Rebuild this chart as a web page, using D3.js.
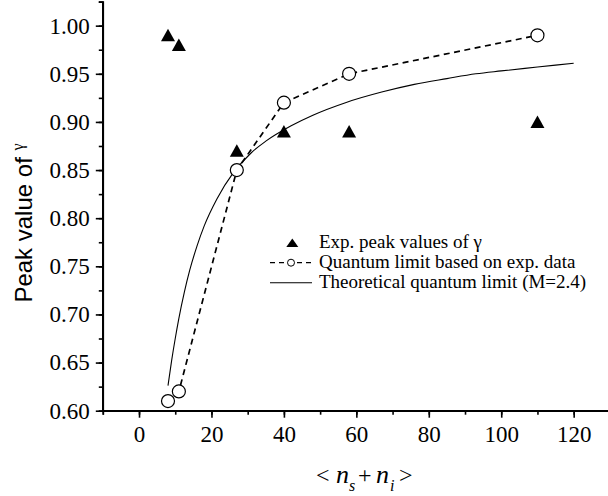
<!DOCTYPE html>
<meta charset="utf-8">
<style>
    body { margin: 0; background: #fff; }
    .axis path, .axis line { stroke: #000; stroke-width: 1.6px; }
    .legend text { font-family: "Liberation Serif", "Times New Roman", serif; font-size: 19px; fill: #000; }
</style>
<title>Peak value of gamma</title>

<body>
    <script src="https://d3js.org/d3.v7.min.js"></script>
    <script>
        // experimental peak values (triangles)
        const nExp = [8, 11, 27, 40, 58, 110];
        const gammaExp = [0.99, 0.98, 0.87, 0.89, 0.89, 0.90];

        // quantum limit based on exp. data (open circles, dashed)
        const nLimit = [8, 11, 27, 40, 58, 110];
        const gammaLimit = [0.61, 0.62, 0.85, 0.92, 0.95, 0.99];

        // theoretical quantum limit, M=2.4
        const nTheory = [8, 9, 10, 11, 12.5, 14, 16, 18, 21.5, 26, 31, 35, 42, 48, 57, 67, 76, 85, 93, 100, 110, 120];
        const gammaTheory = [0.626, 0.652, 0.675, 0.696, 0.723, 0.746, 0.771, 0.792, 0.820, 0.847, 0.868, 0.880,
                             0.896, 0.907, 0.920, 0.931, 0.939, 0.945, 0.950, 0.953, 0.957, 0.961];

        const xTicks = [0, 20, 40, 60, 80, 100, 120];
        const yTicks = [0.60, 0.65, 0.70, 0.75, 0.80, 0.85, 0.90, 0.95, 1.00];
        const legendLabels = ['Exp. peak values of \u03b3', 'Quantum limit based on exp. data', 'Theoretical quantum limit (M=2.4)'];

        var width = 608, height = 496;
        const serif = '"Liberation Serif", "Times New Roman", serif';

        let svg = d3.select('body').append('svg')
            .attr('width', width)
            .attr('height', height);

        let x = d3.scaleLinear().domain([-10, 130]).range([102.8, 609.9]);
        let y = d3.scaleLinear().domain([0.60, 1.025]).range([410.7, 1.6]);

        // minor ticks first, then major axes
        svg.append('g')
            .attr('class', 'axis')
            .attr('transform', 'translate(0,410.7)')
            .call(d3.axisBottom(x).tickValues(d3.range(-10, 131, 10)).tickSize(4).tickFormat(''));
        svg.append('g')
            .attr('class', 'axis')
            .attr('transform', 'translate(102.8,0)')
            .call(d3.axisLeft(y).tickValues(d3.range(0.60, 1.026, 0.025)).tickSize(4).tickFormat(''));

        let xAxis = svg.append('g')
            .attr('class', 'axis')
            .attr('transform', 'translate(0,410.7)')
            .call(d3.axisBottom(x).tickValues(xTicks).tickSize(7).tickSizeOuter(0).tickFormat(d3.format('d')));
        xAxis.selectAll('text')
            .attr('y', 15).attr('dy', '0.71em').attr('fill', '#000')
            .style('font-family', serif).style('font-size', '23px');
        xAxis.select('.domain').remove();

        let yAxis = svg.append('g')
            .attr('class', 'axis')
            .attr('transform', 'translate(102.8,0)')
            .call(d3.axisLeft(y).tickValues(yTicks).tickSize(7).tickPadding(6).tickFormat(d3.format('.2f')));
        yAxis.selectAll('text')
            .attr('fill', '#000')
            .style('font-family', serif).style('font-size', '23px');
        yAxis.select('.domain').remove();

        // axis lines
        svg.append('line')
            .attr('x1', x(-10)).attr('x2', x(130))
            .attr('y1', y(0.60)).attr('y2', y(0.60))
            .attr('stroke', '#000').attr('stroke-width', 1.6);
        svg.append('line')
            .attr('x1', x(-10)).attr('x2', x(-10))
            .attr('y1', y(0.60)).attr('y2', y(1.025))
            .attr('stroke', '#000').attr('stroke-width', 1.6);

        // y label
        let yl = svg.append('text')
            .attr('transform', 'translate(31.5,223) rotate(-90)')
            .attr('text-anchor', 'middle')
            .style('font-family', '"Liberation Sans", Arial, sans-serif')
            .style('font-size', '24px');
        yl.append('tspan').text('Peak value of ');
        yl.append('tspan')
            .style('font-family', serif)
            .style('font-size', '16px')
            .attr('dy', -9)
            .text('\u03b3');

        // x label  < n_s + n_i >
        let xl = svg.append('text')
            .attr('y', 483)
            .style('font-family', serif)
            .style('font-size', '24px');
        xl.append('tspan').attr('x', 316).text('<');
        xl.append('tspan').attr('x', 336).style('font-style', 'italic').style('font-size', '26px').text('n');
        xl.append('tspan').attr('x', 349).attr('dy', 8).style('font-style', 'italic').style('font-size', '16px').text('s');
        xl.append('tspan').attr('x', 358).attr('dy', -8).text('+');
        xl.append('tspan').attr('x', 376).style('font-style', 'italic').style('font-size', '26px').text('n');
        xl.append('tspan').attr('x', 390).attr('dy', 8).style('font-style', 'italic').style('font-size', '16px').text('i');
        xl.append('tspan').attr('x', 399).attr('dy', -8).text('>');

        // theoretical curve
        let theory = nTheory.map((n, i) => [n, gammaTheory[i]]);
        svg.append('path')
            .datum(theory)
            .attr('fill', 'none')
            .attr('stroke', '#000')
            .attr('stroke-width', 1.1)
            .attr('d', d3.line().x(d => x(d[0])).y(d => y(d[1])).curve(d3.curveMonotoneX));

        // dashed limit line + circles
        let limit = nLimit.map((n, i) => [n, gammaLimit[i]]);
        svg.append('path')
            .datum(limit)
            .attr('fill', 'none')
            .attr('stroke', '#000')
            .attr('stroke-width', 1.7)
            .attr('stroke-dasharray', '6,4.5')
            .attr('d', d3.line().x(d => x(d[0])).y(d => y(d[1])));

        svg.append('g')
            .selectAll('circle')
            .data(limit)
            .enter().append('circle')
            .attr('cx', d => x(d[0]))
            .attr('cy', d => y(d[1]))
            .attr('r', 6.5)
            .attr('fill', '#fff')
            .attr('stroke', '#000')
            .attr('stroke-width', 1.2);

        // triangles
        let tri = nExp.map((n, i) => [n, gammaExp[i]]);
        svg.append('g')
            .selectAll('path')
            .data(tri)
            .enter().append('path')
            .attr('transform', d => `translate(${x(d[0])},${y(d[1])})`)
            .attr('d', 'M0,-6.5L7,6L-7,6Z')
            .attr('fill', '#000');

        // legend
        let lg = svg.append('g').attr('class', 'legend');
        lg.append('path')
            .attr('transform', 'translate(292.3,243)')
            .attr('d', 'M0,-4.5L6,4L-6,4Z')
            .attr('fill', '#000');
        lg.append('line')
            .attr('x1', 270).attr('x2', 312).attr('y1', 262.7).attr('y2', 262.7)
            .attr('stroke', '#000').attr('stroke-width', 1.2)
            .attr('stroke-dasharray', '5,4');
        lg.append('circle')
            .attr('cx', 291).attr('cy', 262.7).attr('r', 3.5)
            .attr('fill', '#fff').attr('stroke', '#000').attr('stroke-width', 1);
        lg.append('line')
            .attr('x1', 270).attr('x2', 312).attr('y1', 282.7).attr('y2', 282.7)
            .attr('stroke', '#000').attr('stroke-width', 1.1);
        lg.selectAll('text.lab')
            .data(legendLabels)
            .enter().append('text')
            .attr('class', 'lab')
            .attr('x', 319)
            .attr('y', (d, i) => 248 + i * 20)
            .text(d => d);
    </script>
</body>
